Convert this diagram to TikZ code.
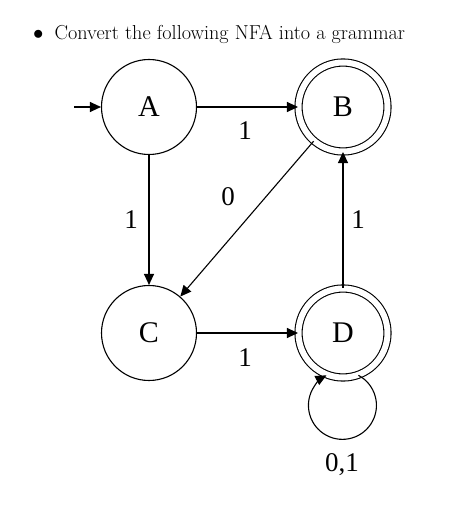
\documentclass[tikz,border=0pt]{standalone}
\usepackage{fontspec}
\newfontfamily\statefont{Liberation Serif}
\usetikzlibrary{arrows.meta}
\begin{document}
\begin{tikzpicture}[x=1pt,y=1pt,
  state/.style={circle,draw,line width=1.1pt,minimum size=95pt,inner sep=0pt,
    font=\statefont\fontsize{30}{30}\selectfont},
  accepting/.style={double,double distance=6pt,line width=1.1pt,minimum size=89pt},
  edgelabel/.style={font=\statefont\fontsize{27}{27}\selectfont,inner sep=0pt},
  arr/.style={line width=1.1pt,-{Triangle[length=11pt,width=10pt]}}]
\useasboundingbox (0,0) rectangle (474,515);
\node[anchor=base west,inner sep=0pt,font=\fontsize{20.2}{24}\selectfont] (title) at (33,475)
  {$\bullet$\hspace{0.55em}Convert the following NFA into a grammar};
\node[state] (A) at (149,408) {A};
\node[state,accepting] (B) at (343,408) {B};
\node[state] (C) at (149,182) {C};
\node[state,accepting] (D) at (343,182) {D};
\coordinate (start) at (74,408);
\draw[arr] (start) -- (A);
\draw[arr] (A) -- (B);
\draw[arr] (A) -- (C);
\draw[arr] (B) -- (C);
\draw[arr] (C) -- (D);
\draw[arr] (D) -- (B);
\draw[arr] (D.-70) arc[start angle=62,end angle=-242,radius=34];
\node[edgelabel] (lab) at (245,384) {1};
\node[edgelabel] (lac) at (131,295) {1};
\node[edgelabel] (lbc) at (228,318) {0};
\node[edgelabel] (lcd) at (245,157) {1};
\node[edgelabel] (ldb) at (358,295) {1};
\node[edgelabel] (ldd) at (342,50) {0,1};
\end{tikzpicture}
\end{document}
